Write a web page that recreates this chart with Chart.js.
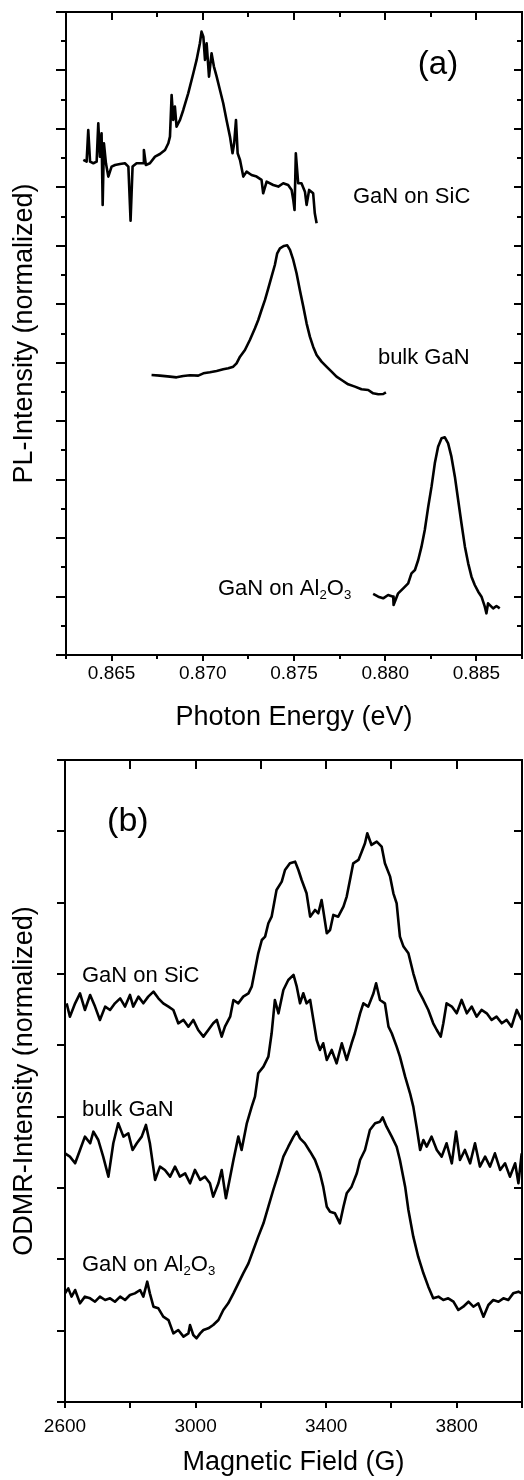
<!DOCTYPE html>
<html>
<head>
<meta charset="utf-8">
<script src="https://cdn.jsdelivr.net/npm/chart.js@4/dist/chart.umd.min.js"></script>
<style>
  html, body { margin: 0; padding: 0; background: #fff; }
  body { width: 524px; height: 1480px; position: relative; overflow: hidden; }
  canvas { position: absolute; left: 0; }
  #plChart { top: 0; }
  #odmrChart { top: 745px; }
</style>
</head>
<body>
<canvas id="plChart" width="524" height="745"></canvas>
<canvas id="odmrChart" width="524" height="735"></canvas>
<script>
// ===== data =====
// panel (a): photon energy (eV) vs PL intensity (arb. units, offset)
const plSiC = [
  [0.86345, 8.469], [0.86363, 8.440], [0.86372, 8.982], [0.86382, 8.440], [0.86400, 8.412],
  [0.86418, 8.440], [0.86427, 9.096], [0.86436, 8.526], [0.86445, 8.925], [0.86451, 7.699],
  [0.86458, 8.754], [0.86469, 8.412], [0.86482, 8.184], [0.86500, 8.355], [0.86519, 8.383],
  [0.86546, 8.400], [0.86573, 8.412], [0.86592, 8.355], [0.86604, 7.431], [0.86615, 8.355],
  [0.86637, 8.412], [0.86674, 8.412], [0.86677, 8.640], [0.86688, 8.383], [0.86710, 8.412],
  [0.86738, 8.526], [0.86765, 8.571], [0.86793, 8.640], [0.86811, 8.754], [0.86820, 8.868],
  [0.86829, 9.581], [0.86838, 9.153], [0.86847, 9.381], [0.86856, 9.039], [0.86875, 9.153],
  [0.86893, 9.324], [0.86920, 9.609], [0.86948, 9.952], [0.86966, 10.180], [0.86984, 10.465],
  [0.86993, 10.664], [0.87003, 10.579], [0.87012, 10.180], [0.87021, 10.465], [0.87034, 9.895],
  [0.87048, 10.294], [0.87061, 10.066], [0.87076, 9.895], [0.87094, 9.666], [0.87112, 9.438],
  [0.87130, 9.153], [0.87149, 8.868], [0.87163, 8.583], [0.87172, 8.754], [0.87182, 9.153],
  [0.87191, 8.583], [0.87204, 8.469], [0.87222, 8.184], [0.87240, 8.269], [0.87267, 8.212],
  [0.87295, 8.184], [0.87322, 8.127], [0.87331, 7.899], [0.87350, 8.098], [0.87386, 8.041],
  [0.87414, 8.013], [0.87441, 8.070], [0.87468, 8.041], [0.87487, 7.956], [0.87496, 7.785],
  [0.87503, 7.613], [0.87510, 8.583], [0.87523, 8.070], [0.87541, 8.070], [0.87560, 7.927],
  [0.87569, 7.699], [0.87583, 7.956], [0.87605, 7.899], [0.87614, 7.556], [0.87624, 7.385]
];
const plBulk = [
  [0.86719, 4.790], [0.86765, 4.779], [0.86820, 4.762], [0.86856, 4.750], [0.86893, 4.773],
  [0.86930, 4.785], [0.86975, 4.779], [0.87003, 4.819], [0.87039, 4.836], [0.87076, 4.859],
  [0.87112, 4.887], [0.87140, 4.905], [0.87167, 4.933], [0.87185, 4.990], [0.87204, 5.104],
  [0.87231, 5.218], [0.87258, 5.389], [0.87286, 5.589], [0.87304, 5.731], [0.87322, 5.902],
  [0.87341, 6.074], [0.87359, 6.273], [0.87377, 6.473], [0.87395, 6.672], [0.87408, 6.872],
  [0.87423, 6.958], [0.87445, 6.997], [0.87463, 7.009], [0.87478, 6.929], [0.87496, 6.758],
  [0.87514, 6.530], [0.87532, 6.245], [0.87551, 5.960], [0.87569, 5.674], [0.87587, 5.446],
  [0.87605, 5.275], [0.87624, 5.133], [0.87651, 5.019], [0.87678, 4.933], [0.87706, 4.847],
  [0.87733, 4.762], [0.87761, 4.705], [0.87797, 4.631], [0.87834, 4.591], [0.87870, 4.545],
  [0.87907, 4.534], [0.87934, 4.477], [0.87962, 4.460], [0.87989, 4.465], [0.88004, 4.494]
];
const plSapphire = [
  [0.87934, 1.044], [0.87962, 0.998], [0.87989, 0.970], [0.88016, 1.027], [0.88044, 0.998],
  [0.88046, 0.855], [0.88071, 1.055], [0.88099, 1.141], [0.88126, 1.226], [0.88144, 1.397],
  [0.88163, 1.454], [0.88181, 1.625], [0.88199, 1.853], [0.88217, 2.139], [0.88236, 2.538],
  [0.88254, 2.880], [0.88272, 3.279], [0.88290, 3.564], [0.88309, 3.707], [0.88327, 3.724],
  [0.88345, 3.621], [0.88363, 3.393], [0.88382, 3.051], [0.88400, 2.652], [0.88418, 2.253],
  [0.88437, 1.853], [0.88455, 1.568], [0.88473, 1.340], [0.88491, 1.198], [0.88510, 1.083],
  [0.88528, 0.998], [0.88546, 0.827], [0.88555, 0.713], [0.88564, 0.884], [0.88592, 0.798],
  [0.88610, 0.838], [0.88628, 0.798]
];

// panel (b): magnetic field (G) vs ODMR intensity (arb. units, offset)
const odmrSiC = [
  [2605, 5.589], [2615, 5.402], [2631, 5.589], [2646, 5.729], [2661, 5.496], [2677, 5.706],
  [2692, 5.543], [2707, 5.356], [2723, 5.543], [2738, 5.496], [2753, 5.589], [2769, 5.659],
  [2784, 5.543], [2799, 5.706], [2809, 5.543], [2825, 5.683], [2840, 5.589], [2855, 5.683],
  [2871, 5.753], [2886, 5.659], [2901, 5.589], [2917, 5.543], [2932, 5.496], [2947, 5.309],
  [2963, 5.356], [2978, 5.262], [2993, 5.356], [3008, 5.215], [3024, 5.122], [3039, 5.215],
  [3054, 5.309], [3065, 5.356], [3080, 5.122], [3090, 5.262], [3106, 5.402], [3116, 5.636],
  [3131, 5.589], [3146, 5.683], [3162, 5.729], [3172, 5.823], [3182, 6.057], [3192, 6.290],
  [3203, 6.477], [3213, 6.524], [3223, 6.711], [3233, 6.804], [3248, 7.178], [3264, 7.295],
  [3274, 7.458], [3289, 7.552], [3305, 7.575], [3315, 7.458], [3325, 7.318], [3340, 7.131],
  [3351, 6.804], [3366, 6.898], [3376, 6.851], [3386, 7.038], [3391, 6.898], [3402, 6.571],
  [3412, 6.617], [3422, 6.828], [3437, 6.804], [3453, 6.944], [3463, 7.085], [3473, 7.318],
  [3483, 7.552], [3499, 7.599], [3509, 7.715], [3519, 7.832], [3526, 7.973], [3539, 7.809],
  [3555, 7.856], [3570, 7.786], [3580, 7.552], [3596, 7.365], [3606, 7.131], [3616, 6.991],
  [3626, 6.524], [3637, 6.384], [3652, 6.290], [3667, 6.010], [3682, 5.776], [3698, 5.636],
  [3713, 5.496], [3728, 5.309], [3739, 5.215], [3751, 5.122], [3759, 5.309], [3769, 5.589],
  [3785, 5.543], [3800, 5.449], [3815, 5.636], [3831, 5.449], [3846, 5.543], [3861, 5.402],
  [3876, 5.496], [3892, 5.449], [3907, 5.356], [3922, 5.402], [3938, 5.309], [3953, 5.356],
  [3968, 5.262], [3984, 5.496], [3999, 5.356]
];
const odmrBulk = [
  [2600, 3.486], [2615, 3.440], [2631, 3.346], [2646, 3.533], [2661, 3.720], [2677, 3.627],
  [2687, 3.790], [2702, 3.673], [2717, 3.440], [2733, 3.159], [2748, 3.627], [2763, 3.907],
  [2779, 3.720], [2794, 3.767], [2807, 3.533], [2820, 3.627], [2835, 3.720], [2848, 3.884],
  [2860, 3.627], [2876, 3.113], [2891, 3.300], [2906, 3.253], [2922, 3.159], [2937, 3.300],
  [2952, 3.159], [2968, 3.206], [2983, 3.066], [2998, 3.253], [3014, 3.113], [3029, 3.159],
  [3044, 3.066], [3054, 2.879], [3070, 3.066], [3080, 3.253], [3093, 2.856], [3106, 3.159],
  [3116, 3.393], [3131, 3.720], [3141, 3.533], [3157, 3.907], [3172, 4.141], [3182, 4.281],
  [3192, 4.608], [3208, 4.701], [3223, 4.842], [3233, 5.169], [3243, 5.636], [3254, 5.449],
  [3269, 5.776], [3284, 5.916], [3300, 5.987], [3310, 5.823], [3320, 5.589], [3330, 5.730],
  [3340, 5.589], [3351, 5.636], [3361, 5.356], [3371, 5.075], [3381, 4.935], [3391, 5.029],
  [3402, 4.795], [3417, 4.935], [3432, 4.748], [3448, 5.029], [3463, 4.795], [3478, 5.029],
  [3488, 5.169], [3504, 5.449], [3514, 5.589], [3529, 5.543], [3545, 5.730], [3553, 5.870],
  [3565, 5.636], [3580, 5.589], [3591, 5.262], [3601, 5.169], [3616, 4.982], [3626, 4.842],
  [3642, 4.561], [3657, 4.328], [3667, 4.141], [3677, 3.860], [3688, 3.533], [3698, 3.673],
  [3708, 3.580], [3723, 3.720], [3739, 3.533], [3754, 3.440], [3769, 3.627], [3785, 3.346],
  [3798, 3.790], [3810, 3.393], [3825, 3.533], [3841, 3.346], [3856, 3.627], [3871, 3.300],
  [3887, 3.440], [3902, 3.300], [3917, 3.486], [3933, 3.253], [3948, 3.346], [3963, 3.159],
  [3979, 3.346], [3989, 3.066], [3999, 3.486]
];
const odmrSapphire = [
  [2600, 1.523], [2610, 1.593], [2620, 1.477], [2631, 1.570], [2646, 1.383], [2661, 1.477],
  [2677, 1.453], [2692, 1.406], [2707, 1.477], [2723, 1.430], [2738, 1.453], [2753, 1.406],
  [2769, 1.477], [2784, 1.430], [2799, 1.500], [2814, 1.523], [2830, 1.570], [2840, 1.477],
  [2852, 1.687], [2860, 1.523], [2871, 1.336], [2886, 1.313], [2901, 1.196], [2917, 1.149],
  [2932, 0.962], [2947, 1.009], [2963, 0.916], [2978, 0.962], [2983, 1.079], [2993, 0.939],
  [3003, 0.893], [3014, 0.962], [3024, 1.009], [3039, 1.033], [3054, 1.079], [3070, 1.149],
  [3085, 1.290], [3100, 1.383], [3116, 1.523], [3131, 1.663], [3146, 1.804], [3162, 1.944],
  [3177, 2.131], [3192, 2.318], [3208, 2.505], [3223, 2.738], [3238, 2.972], [3254, 3.206],
  [3269, 3.439], [3284, 3.579], [3300, 3.720], [3310, 3.790], [3320, 3.696], [3335, 3.626],
  [3351, 3.509], [3366, 3.393], [3381, 3.206], [3391, 3.019], [3402, 2.738], [3412, 2.668],
  [3427, 2.645], [3442, 2.505], [3453, 2.738], [3463, 2.925], [3478, 3.019], [3494, 3.206],
  [3504, 3.393], [3519, 3.533], [3534, 3.813], [3550, 3.907], [3565, 3.930], [3573, 3.991],
  [3585, 3.860], [3601, 3.720], [3616, 3.579], [3626, 3.393], [3642, 3.019], [3652, 2.692],
  [3667, 2.318], [3682, 2.037], [3698, 1.804], [3713, 1.617], [3728, 1.453], [3744, 1.477],
  [3759, 1.430], [3774, 1.453], [3790, 1.406], [3805, 1.290], [3820, 1.336], [3836, 1.406],
  [3851, 1.336], [3866, 1.383], [3882, 1.196], [3897, 1.360], [3912, 1.430], [3928, 1.406],
  [3943, 1.453], [3958, 1.430], [3973, 1.523], [3989, 1.547], [3999, 1.523]
];

// axis ticks
const energyTicks = [0.8625, 0.865, 0.8675, 0.870, 0.8725, 0.875, 0.8775, 0.880, 0.8825, 0.885, 0.8875];
const energyLabels = ['', '0.865', '', '0.870', '', '0.875', '', '0.880', '', '0.885', ''];
const plTicks = [0, 0.5, 1, 1.5, 2, 2.5, 3, 3.5, 4, 4.5, 5, 5.5, 6, 6.5, 7, 7.5, 8, 8.5, 9, 9.5, 10, 10.5, 11];
const fieldTicks = [2600, 2800, 3000, 3200, 3400, 3600, 3800, 4000];
const fieldLabels = ['2600', '', '3000', '', '3400', '', '3800', ''];
const odmrTicks = [0, 1, 2, 3, 4, 5, 6, 7, 8, 9];

const FONT = '"Liberation Sans", Arial, Helvetica, sans-serif';
const INK = '#000';

// frame, mirrored tick marks and the in-plot labels
function makeFrame(cfg) {
    return {
        id: 'frame',
        afterDraw(chart) {
            const { ctx, chartArea: a, scales } = chart;
            const xs = scales.x, ys = scales.y;
            ctx.save();
            ctx.strokeStyle = INK;
            ctx.lineWidth = 2;
            ctx.beginPath();
            cfg.xTicks.forEach((v, i) => {
                const px = Math.round(xs.getPixelForValue(v));
                const major = cfg.xLabels[i] !== '';
                const down = major ? cfg.bottomLen[0] : cfg.bottomLen[1];
                const up = major ? cfg.topLen[0] : cfg.topLen[1];
                ctx.moveTo(px, a.bottom); ctx.lineTo(px, a.bottom + down);
                ctx.moveTo(px, a.top); ctx.lineTo(px, a.top + up);
            });
            cfg.yTicks.forEach(v => {
                const py = Math.round(ys.getPixelForValue(v));
                const major = Number.isInteger(v);
                const out = major ? cfg.leftLen[0] : cfg.leftLen[1];
                const inn = major ? cfg.rightLen[0] : cfg.rightLen[1];
                ctx.moveTo(a.left, py); ctx.lineTo(a.left - out, py);
                ctx.moveTo(a.right, py); ctx.lineTo(a.right - inn, py);
            });
            ctx.stroke();
            ctx.strokeRect(a.left, a.top, a.right - a.left, a.bottom - a.top);

            ctx.fillStyle = INK;
            ctx.textAlign = 'left';
            ctx.textBaseline = 'middle';
            cfg.labels.forEach(lab => {
                let x = xs.getPixelForValue(lab.x);
                const y = ys.getPixelForValue(lab.y);
                lab.parts.forEach(([t, sub]) => {
                    const size = sub ? lab.size * 0.6 : lab.size;
                    ctx.font = size + 'px ' + FONT;
                    ctx.fillText(t, x, sub ? y + lab.size * 0.3 : y);
                    x += ctx.measureText(t).width;
                });
            });
            ctx.restore();
        }
    };
}

function lineSet(points) {
    return {
        data: points.map(p => ({ x: p[0], y: p[1] })),
        borderColor: INK,
        borderWidth: 2.6,
        pointRadius: 0,
        tension: 0,
        borderJoinStyle: 'round',
        fill: false
    };
}

function makeChart(id, o) {
    return new Chart(document.getElementById(id), {
        type: 'line',
        data: { datasets: o.series.map(lineSet) },
        options: {
            responsive: false,
            animation: false,
            events: [],
            layout: { padding: { left: 0, right: 2, top: o.top, bottom: 0 } },
            plugins: { legend: { display: false }, tooltip: { enabled: false } },
            scales: {
                x: {
                    type: 'linear',
                    min: o.xTicks[0],
                    max: o.xTicks[o.xTicks.length - 1],
                    afterBuildTicks: s => { s.ticks = o.xTicks.map(v => ({ value: v })); },
                    afterFit: s => {
                        s.height = o.xHeight;
                        s.paddingLeft = 0;   // tick padding would otherwise eat into the plot width
                        s.paddingRight = 0;
                    },
                    grid: { display: false, drawTicks: false },
                    border: { display: false },
                    ticks: {
                        autoSkip: false,
                        maxRotation: 0,
                        padding: o.tickPad,
                        color: INK,
                        font: { family: FONT, size: 19 },
                        callback: (v, i) => o.xLabels[i]
                    },
                    title: {
                        display: true,
                        text: o.xTitle,
                        color: INK,
                        font: { family: FONT, size: 27 },
                        padding: { top: 0, bottom: o.xTitlePad }
                    }
                },
                y: {
                    type: 'linear',
                    min: o.yTicks[0],
                    max: o.yTicks[o.yTicks.length - 1],
                    afterBuildTicks: s => { s.ticks = o.yTicks.map(v => ({ value: v })); },
                    afterFit: s => { s.width = o.yWidth; s.paddingTop = 0; s.paddingBottom = 0; },
                    grid: { display: false, drawTicks: false },
                    border: { display: false },
                    ticks: { display: false },
                    title: {
                        display: true,
                        text: o.yTitle,
                        color: INK,
                        font: { family: FONT, size: 27 },
                        padding: { top: 8.5, bottom: 0 }
                    }
                }
            }
        },
        plugins: [makeFrame({
            xTicks: o.xTicks, xLabels: o.xLabels, yTicks: o.yTicks,
            bottomLen: o.bottomLen, topLen: o.topLen, leftLen: o.leftLen, rightLen: o.rightLen,
            labels: o.labels
        })]
    });
}

document.addEventListener("DOMContentLoaded", function () {
    makeChart('plChart', {
        series: [plSiC, plBulk, plSapphire],
        xTicks: energyTicks, xLabels: energyLabels, yTicks: plTicks,
        top: 12, xHeight: 90, yWidth: 66, tickPad: 7.6, xTitlePad: 10.8,
        xTitle: 'Photon Energy (eV)', yTitle: 'PL-Intensity (normalized)',
        bottomLen: [6, 4], topLen: [8, 5], leftLen: [10, 5], rightLen: [8, 5],
        labels: [
            { parts: [['(a)', 0]], x: 0.88179, y: 10.09, size: 33 },
            { parts: [['GaN on SiC', 0]], x: 0.87823, y: 7.84, size: 22 },
            { parts: [['bulk GaN', 0]], x: 0.87960, y: 5.08, size: 22 },
            { parts: [['GaN on Al', 0], ['2', 1], ['O', 0], ['3', 1]], x: 0.87083, y: 1.13, size: 22 }
        ]
    });

    makeChart('odmrChart', {
        series: [odmrSiC, odmrBulk, odmrSapphire],
        xTicks: fieldTicks, xLabels: fieldLabels, yTicks: odmrTicks,
        top: 15, xHeight: 78, yWidth: 65, tickPad: 13.6, xTitlePad: 0.8,
        xTitle: 'Magnetic Field (G)', yTitle: 'ODMR-Intensity (normalized)',
        bottomLen: [6, 6], topLen: [9, 9], leftLen: [8, 8], rightLen: [8, 8],
        labels: [
            { parts: [['(b)', 0]], x: 2729, y: 8.13, size: 34 },
            { parts: [['GaN on SiC', 0]], x: 2652, y: 5.97, size: 22 },
            { parts: [['bulk GaN', 0]], x: 2652, y: 4.09, size: 22 },
            { parts: [['GaN on Al', 0], ['2', 1], ['O', 0], ['3', 1]], x: 2652, y: 1.92, size: 22 }
        ]
    });
});
</script>
</body>
</html>
